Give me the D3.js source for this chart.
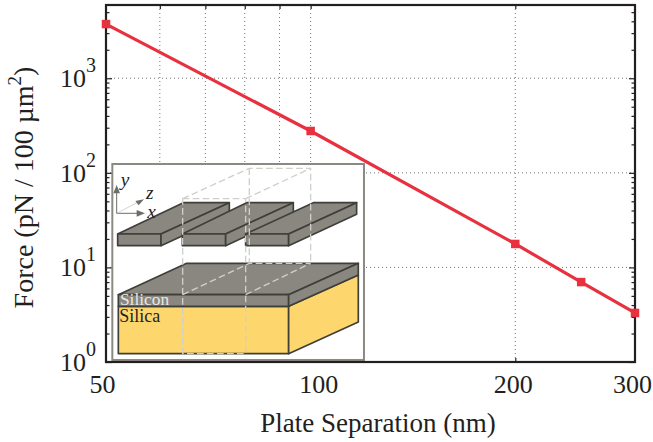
<!DOCTYPE html>
<html><head><meta charset="utf-8">
<script src="https://cdnjs.cloudflare.com/ajax/libs/d3/7.8.5/d3.min.js"></script>
<style>
html,body{margin:0;padding:0;background:#fff}
svg{display:block}
text{font-family:"Liberation Serif",serif;fill:#231f20}
</style></head><body>
<svg id="c" width="653" height="442"></svg>
<script>
const separations=[50,100,200,250,300];
const forces=[3740,277,17.7,7.0,3.3];
const xTicks=[50,100,200,300];
const xGrid=[60,70,80,90,100,200];
const xMinor=[60,70,80,90,100,200];
const yDecades=[1,10,100,1000];
const yMinor=[2,3,4,5,6,7,8,9,20,30,40,50,60,70,80,90,200,300,400,500,600,700,800,900,2000,3000,4000,5000];
const xLabel="Plate Separation (nm)";
const yLabel="Force (pN / 100 µm";

const L=106,R=635,T=5,B=362;
const xLabelNudge=[-3.5,8,-2,-2.5];
const svg=d3.select("#c");
const x=d3.scaleLog().domain([50,300]).range([L,R]);
const y=d3.scaleLog().domain([1,5950]).range([B,T]);
const frame="#231f20", red="#e8303f";

// grid
const g=svg.append("g").attr("stroke","#777").attr("stroke-width",1).attr("stroke-dasharray","1 3");
g.selectAll(".v").data(xGrid).join("line").attr("x1",d=>x(d)).attr("x2",d=>x(d)).attr("y1",T).attr("y2",B);
g.selectAll(".h").data(yDecades.slice(1)).join("line").attr("y1",d=>y(d)).attr("y2",d=>y(d)).attr("x1",L).attr("x2",R);

// ticks through d3 axes
function axis(gen,tx,vals,size){
  const a=svg.append("g").attr("transform",tx).call(gen.tickValues(vals).tickSize(size).tickFormat(""));
  a.select(".domain").remove();
  a.selectAll("line").attr("stroke",frame).attr("stroke-width",1.2);
}
axis(d3.axisLeft(y),`translate(${L},0)`,yDecades,-6);
axis(d3.axisLeft(y),`translate(${L},0)`,yMinor,-3.5);
axis(d3.axisRight(y),`translate(${R},0)`,yDecades,-6);
axis(d3.axisRight(y),`translate(${R},0)`,yMinor,-3.5);
axis(d3.axisBottom(x),`translate(0,${B})`,xMinor,-4);
axis(d3.axisTop(x),`translate(0,${T})`,xMinor,-4);

// inset
const inset=svg.append("g").attr("transform","translate(100,150) scale(0.3333)");
inset.append("rect").attr("x",37).attr("y",42).attr("width",755).attr("height",588)
  .attr("fill","#fff").attr("stroke","#8a8a82").attr("stroke-width",6);
const gray="#8a8780", yellow="#fdd76e", edge="#3f3f39";
const poly=(pts,fill)=>inset.append("polygon").attr("points",pts).attr("fill",fill).attr("stroke",edge).attr("stroke-width",5).attr("stroke-linejoin","round");
poly("55,469 566,469 566,611 55,611",yellow);
poly("566,469 775,375 775,516 566,611",yellow);
poly("55,434 566,434 775,340 260,340",gray);
poly("55,434 566,434 566,469 55,469",gray);
poly("566,434 775,340 775,375 566,469",gray);
[[53,183,250,388],[247,377,440,580],[437,566,640,770]].forEach(s=>{
  poly(`${s[0]},252 ${s[1]},252 ${s[3]},158 ${s[2]},158`,gray);
  poly(`${s[0]},252 ${s[1]},252 ${s[1]},287 ${s[0]},287`,gray);
  poly(`${s[1]},252 ${s[3]},158 ${s[3]},193 ${s[1]},287`,gray);
});
inset.append("path").attr("fill","none").attr("stroke","#cfcfcb").attr("stroke-width",4).attr("stroke-dasharray","20 10")
 .attr("d","M248,146H437V611H248ZM248,146L448,55H632V340M437,146L632,55M448,55V340M248,434L448,340H632M437,434L632,340");
const ax=inset.append("g");
ax.append("path").attr("d","M50,190V120M50,190H120").attr("fill","none").attr("stroke","#6e6e68").attr("stroke-width",3);
ax.append("path").attr("d","M50,190L115,156").attr("fill","none").attr("stroke","#bdbdb8").attr("stroke-width",2);
ax.append("path").attr("d","M50,105L40,130H60ZM135,190L110,180V200ZM132,148L106,153L116,166Z").attr("fill","#6e6e68");
[["y",62,108],["z",138,147],["x",142,203]].forEach(a=>inset.append("text").text(a[0]).attr("x",a[1]).attr("y",a[2]).attr("font-size",58).attr("font-style","italic"));
inset.append("text").text("Silicon").attr("x",60).attr("y",465).attr("font-size",52).style("fill","#e8e8e4");
inset.append("text").text("Silica").attr("x",58).attr("y",515).attr("font-size",54);

// frame
svg.append("rect").attr("x",L).attr("y",T).attr("width",R-L).attr("height",B-T).attr("fill","none").attr("stroke",frame).attr("stroke-width",2.2);

// series
const line=d3.line().x((d,i)=>x(separations[i])).y(d=>y(d));
svg.append("path").datum(forces).attr("d",line).attr("fill","none").attr("stroke",red).attr("stroke-width",3.2);
svg.selectAll(".pt").data(forces).join("rect").attr("width",8.5).attr("height",8.5)
  .attr("x",(d,i)=>x(separations[i])-4.25).attr("y",d=>y(d)-4.25).attr("fill",red);

// tick labels
svg.selectAll(".xl").data(xTicks).join("text").text(d=>d).attr("x",(d,i)=>x(d)+xLabelNudge[i]).attr("y",393)
  .attr("text-anchor","middle").attr("font-size",26);
const yl=svg.selectAll(".yl").data(yDecades).join("text").attr("y",d=>y(d)+9).attr("x",96).attr("text-anchor","end").attr("font-size",26);
yl.append("tspan").text("10");
yl.append("tspan").text(d=>Math.round(Math.log10(d))).attr("font-size",20).attr("dy",-15);

// titles
svg.append("text").text(xLabel).attr("x",378).attr("y",432).attr("text-anchor","middle").attr("font-size",27);
const yt=svg.append("text").attr("transform","translate(33,187.5) rotate(-90)").attr("text-anchor","middle").attr("font-size",28);
yt.append("tspan").text(yLabel);
yt.append("tspan").text("2").attr("font-size",19).attr("dy",-12);
yt.append("tspan").text(")").attr("dy",12);
</script>
</body></html>
